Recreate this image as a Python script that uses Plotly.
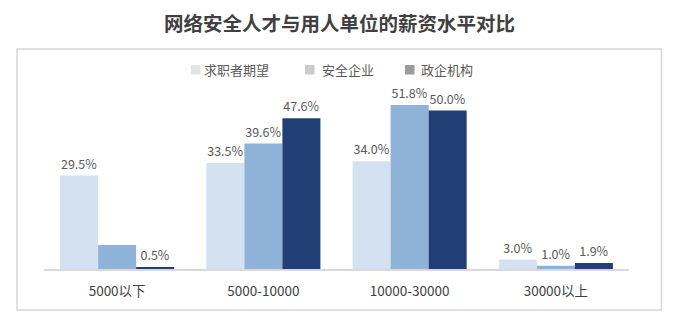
import plotly.graph_objects as go

categories = ["5000以下", "5000-10000", "10000-30000", "30000以上"]
series_names = ["求职者期望", "安全企业", "政企机构"]
seeker = [29.5, 33.5, 34.0, 3.0]
company = [7.6, 39.6, 51.8, 1.0]
gov = [0.5, 47.6, 50.0, 1.9]
show_label = [[True, True, True, True], [False, True, True, True], [True, True, True, True]]

bar_colors = ["#d3e1f1", "#8fb2d9", "#213f74"]
legend_colors = ["#e3e3e3", "#cbcbcb", "#9b9b9b"]

W, H = 678, 329
L, R, T, B = 44, 49, 97, 60
YMAX = 54.3
plot_w = W - L - R
plot_h = H - T - B

def px(x):
    return (x - L) / plot_w

def py(y):
    return (H - B - y) / plot_h

font = "Noto Sans CJK SC, Noto Sans, sans-serif"

fig = go.Figure()
for name, vals, col, show in zip(series_names, [seeker, company, gov], bar_colors, show_label):
    fig.add_trace(go.Bar(
        x=categories, y=vals, name=name, marker=dict(color=col, line=dict(width=0)),
        text=[f"{v:.1f}%" if s else "" for v, s in zip(vals, show)],
        textposition="outside", cliponaxis=False, constraintext="none",
        textfont=dict(size=12.5, color="#595959", family=font),
        showlegend=False, hoverinfo="x+y+name",
    ))

shapes = []
annotations = []
# frame
shapes.append(dict(type="rect", xref="paper", yref="paper",
                   x0=px(17), x1=px(661.5), y0=py(310), y1=py(49),
                   line=dict(color="#d6d6d6", width=1.5), fillcolor="rgba(0,0,0,0)", layer="below"))
# legend
leg_sq_x = [191, 305, 405]
leg_tx_x = [203, 321, 420]
for name, col, sx, tx in zip(series_names, legend_colors, leg_sq_x, leg_tx_x):
    shapes.append(dict(type="rect", xref="paper", yref="paper",
                       x0=px(sx), x1=px(sx + 9.5), y0=py(74.5), y1=py(65),
                       line=dict(width=0), fillcolor=col))
    annotations.append(dict(text=name, xref="paper", yref="paper", x=px(tx - 1), y=py(69.5),
                            xanchor="left", yanchor="middle", showarrow=False,
                            font=dict(size=13, color="#595959", family=font)))
# title
annotations.append(dict(text="<b>网络安全人才与用人单位的薪资水平对比</b>", xref="paper", yref="paper",
                        x=px(339), y=py(22.5), xanchor="center", yanchor="middle", showarrow=False,
                        font=dict(size=19.5, color="#404040", family=font)))

fig.update_layout(
    width=W, height=H, margin=dict(l=L, r=R, t=T, b=B),
    paper_bgcolor="white", plot_bgcolor="white",
    barmode="group", bargap=0.22, bargroupgap=0,
    showlegend=False, shapes=shapes, annotations=annotations,
    font=dict(family=font),
    xaxis=dict(showline=True, linecolor="#d9d9d9", linewidth=1.5, ticks="outside", ticklen=9,
               tickcolor="rgba(0,0,0,0)", tickfont=dict(size=13.5, color="#404040", family=font),
               showgrid=False, fixedrange=True),
    yaxis=dict(range=[0, YMAX], visible=False, showgrid=False, fixedrange=True),
)

fig.write_html("out.html")
